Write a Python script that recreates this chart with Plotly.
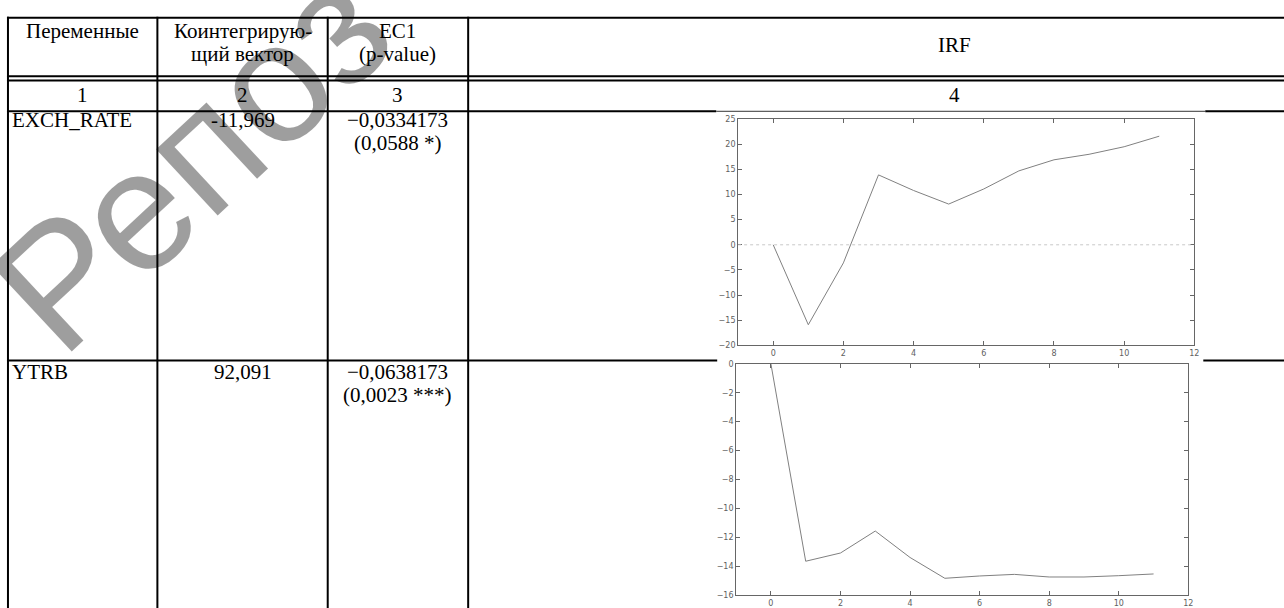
import plotly.graph_objects as go

# ---------------- data ----------------
periods = list(range(12))
irf_exch_rate = [0, -15.9, -3.6, 13.9, 10.8, 8.1, 11.1, 14.7, 16.9, 18.0, 19.5, 21.6]
irf_ytrb = [0, -13.66, -13.09, -11.57, -13.4, -14.84, -14.68, -14.57, -14.75, -14.75, -14.66, -14.54]

header_cols = [["Переменные"], ["Коинтегрирую-", "щий вектор"], ["EC1", "(p-value)"], ["IRF"]]
col_numbers = ["1", "2", "3", "4"]
variables = ["EXCH_RATE", "YTRB"]
coint_vector = ["-11,969", "92,091"]
ec1_values = ["\u22120,0334173", "\u22120,0638173"]
ec1_pvalues = ["(0,0588 *)", "(0,0023 ***)"]

x_ticks = [0, 2, 4, 6, 8, 10, 12]
y_ticks_exch = [-20, -15, -10, -5, 0, 5, 10, 15, 20, 25]
y_ticks_ytrb = [-16, -14, -12, -10, -8, -6, -4, -2, 0]
watermark_text = "Репоз"

# ---------------- layout helpers (screen pixels -> paper) ----------------
W, H = 1284, 608


def px(x):
    return x / W


def py(y):
    return 1 - y / H


FONT = "Liberation Serif"
FS = 21
col_edges = [8, 158, 329, 470, 1446]
col_centers = [(col_edges[i] + col_edges[i + 1]) / 2 for i in range(4)]
col4_center = 958

fig = go.Figure()

axis_color = "#666666"
tickfont = dict(family="DejaVu Sans", size=8, color="#606060")
common = dict(showline=True, linecolor=axis_color, linewidth=1, mirror="ticks",
              ticks="inside", ticklen=4, tickcolor=axis_color, tickwidth=1,
              showgrid=False, zeroline=False, tickfont=tickfont, fixedrange=True)

fig.add_trace(go.Scatter(x=periods, y=irf_exch_rate, mode="lines",
                         line=dict(color="#808080", width=1), xaxis="x", yaxis="y",
                         showlegend=False, hoverinfo="skip"))
fig.add_trace(go.Scatter(x=periods, y=irf_ytrb, mode="lines",
                         line=dict(color="#808080", width=1), xaxis="x2", yaxis="y2",
                         showlegend=False, hoverinfo="skip"))

fig.update_layout(
    width=W, height=H, autosize=False,
    margin=dict(l=0, r=0, t=0, b=0),
    paper_bgcolor="white", plot_bgcolor="white",
    xaxis=dict(domain=[px(741), px(1199)], range=[-1, 12], tickvals=x_ticks,
               anchor="y", **common),
    yaxis=dict(domain=[py(350), py(118)], range=[-20, 25], tickvals=y_ticks_exch,
               anchor="x", **common),
    xaxis2=dict(domain=[px(739), px(1193)], range=[-1, 12], tickvals=x_ticks,
                anchor="y2", **common),
    yaxis2=dict(domain=[py(606), py(369)], range=[-16, 0], tickvals=y_ticks_ytrb,
                anchor="x2", **common),
)

shapes = []
# zero reference line in the first IRF chart
shapes.append(dict(type="line", xref="x domain", x0=0, x1=1, yref="y", y0=0, y1=0,
                   line=dict(color="#c8c8c8", width=1, dash="dot"), layer="above"))


def hline(y, x0, x1, w=2, color="black"):
    shapes.append(dict(type="line", xref="paper", yref="paper",
                       x0=px(x0), x1=px(x1), y0=py(y), y1=py(y),
                       line=dict(color=color, width=w), layer="above"))


def vline(x, y0, y1, w=2):
    shapes.append(dict(type="line", xref="paper", yref="paper",
                       x0=px(x), x1=px(x), y0=py(y0), y1=py(y1),
                       line=dict(color="black", width=w), layer="above"))


hline(14, 7, 1290)
hline(74, 7, 1290)
hline(78.5, 7, 1290)
hline(110, 7, 719)
hline(110, 719, 1210, w=1, color="#333333")
hline(110, 1210, 1290)
hline(365.5, 7, 720)
hline(365.5, 1208, 1290)
for xe in col_edges[:4]:
    vline(xe, 13, 620)

fig.update_layout(shapes=shapes)

annotations = []
# watermark (drawn first, semi-transparent)
annotations.append(dict(text=watermark_text, xref="paper", yref="paper",
                        x=px(192), y=py(158), xanchor="center", yanchor="middle",
                        showarrow=False, textangle=-43,
                        font=dict(family="Liberation Sans", size=171,
                                  color="rgba(0,0,0,0.38)")))


def add_text(txt, x, baseline, anchor="center"):
    annotations.append(dict(text=txt, xref="paper", yref="paper",
                            x=px(x), y=py(baseline - 0.3375 * FS),
                            xanchor=anchor, yanchor="middle", showarrow=False,
                            borderpad=0,
                            font=dict(family=FONT, size=FS, color="black")))


# header
add_text(header_cols[0][0], col_centers[0], 35)
add_text(header_cols[1][0], col_centers[1], 35)
add_text(header_cols[1][1], col_centers[1], 58.5)
add_text(header_cols[2][0], col_centers[2], 35)
add_text(header_cols[2][1], col_centers[2], 58.5)
add_text(header_cols[3][0], col4_center, 49)
# column numbers
for i, n in enumerate(col_numbers):
    add_text(n, col_centers[i] if i < 3 else col4_center, 100)
# data rows
row_baselines = [126.5, 384]
for i in range(2):
    b = row_baselines[i]
    add_text(variables[i], 11, b, anchor="left")
    add_text(coint_vector[i], col_centers[1], b)
    add_text(ec1_values[i], col_centers[2], b)
    add_text(ec1_pvalues[i], col_centers[2], b + 23.5)

fig.update_layout(annotations=annotations)

fig.write_html("out.html",
               config={"displayModeBar": False},
               post_script="document.body.style.margin='0px';"
                           "document.body.style.overflow='hidden';")
